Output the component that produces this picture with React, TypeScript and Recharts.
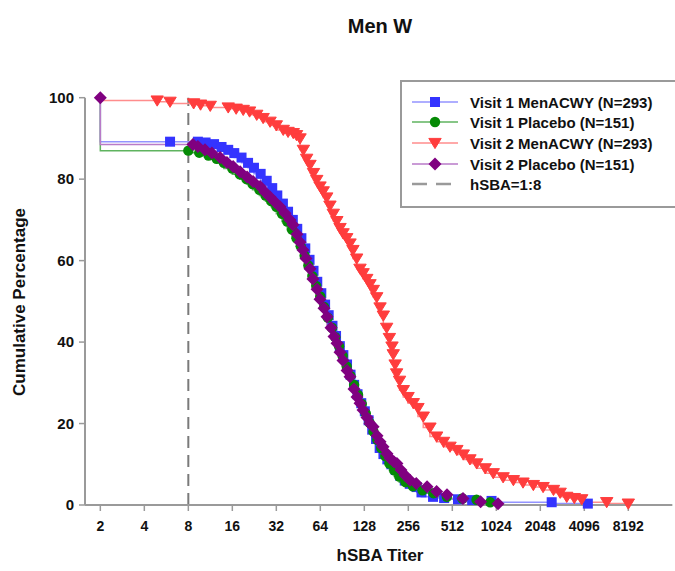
import React from 'react';
import { LineChart, Line, XAxis, YAxis, ReferenceLine } from 'recharts';

const FONT = '"Liberation Sans", Arial, Helvetica, sans-serif';

const titleText = 'Men W';
const xAxisTitle = 'hSBA Titer';
const yAxisTitle = 'Cumulative Percentage';
const xTicks = [2, 4, 8, 16, 32, 64, 128, 256, 512, 1024, 2048, 4096, 8192];
const yTicks = [0, 20, 40, 60, 80, 100];
const cutoffTiter = 8;
const cutoffLabel = 'hSBA=1:8';
const seriesNames = [
  'Visit 1 MenACWY (N=293)',
  'Visit 1 Placebo (N=151)',
  'Visit 2 MenACWY (N=293)',
  'Visit 2 Placebo (N=151)',
];

// [titer, cumulative %]
const visit1MenACWY: [number, number][] = [
  [2, 100], [6, 89.2], [9.3, 89.2], [10.5, 89.0], [12, 88.6], [13.5, 87.9], [15, 87.2], [16.5, 86.4],
  [18.5, 85.3], [20.5, 84.0], [22.5, 82.8], [25, 81.3], [27.5, 79.6], [30, 77.8], [32.5, 76.0],
  [35.5, 74.0], [38.5, 72.0], [41.5, 70.0], [44.5, 67.8], [47.5, 65.5], [50.5, 63.0], [54, 60.2],
  [57.5, 57.5], [61, 54.8], [65, 52.0], [69, 49.2], [73, 46.6], [77.5, 44.0], [82, 41.5], [87, 39.0],
  [92, 36.8], [97.5, 34.5], [103, 32.0], [109, 29.5], [115, 27.2], [122, 25.0], [129, 23.0],
  [137, 20.8], [145, 18.5], [154, 16.2], [163, 14.0], [173, 12.5], [184, 11.2], [196, 10.0],
  [210, 8.6], [225, 7.2], [242, 6.0], [262, 5.2], [292, 4.4], [315, 3.1], [378, 2.0], [450, 1.7],
  [560, 1.4], [700, 1.2], [950, 1.0], [2450, 0.68], [4330, 0.34],
];

const visit1Placebo: [number, number][] = [
  [2, 100], [8, 87.0], [9.5, 86.5], [11, 85.8], [12.5, 85.0], [14, 84.0], [16, 82.6], [18, 81.2],
  [20, 80.0], [22, 78.8], [24.5, 77.4], [27, 76.0], [29.5, 74.6], [32, 73.2], [35, 71.5], [38, 69.6],
  [41, 67.6], [44, 65.5], [47, 63.5], [50, 61.2], [53, 58.8], [56.5, 56.2], [60, 53.8], [64, 51.2],
  [68, 48.6], [72, 46.0], [77, 43.5], [81, 41.2], [86, 39.0], [91, 36.6], [97, 34.0], [103, 31.7],
  [109, 29.5], [116, 27.0], [123, 24.8], [131, 22.5], [139, 20.2], [148, 18.0], [157, 16.0],
  [167, 14.0], [178, 12.0], [190, 10.2], [205, 8.5], [222, 7.0], [245, 5.6], [275, 4.6], [320, 3.6],
  [380, 2.9], [470, 2.0], [600, 1.6], [750, 1.3], [930, 0.66],
];

const visit2MenACWY: [number, number][] = [
  [2, 100], [4.9, 99.3], [6, 99.0], [8.7, 98.6], [9.7, 98.3], [11.3, 98.0], [15, 97.6], [17, 97.3],
  [19, 97.0], [21, 96.6], [23.5, 95.8], [26, 95.0], [29, 94.1], [32, 93.2], [35.7, 92.1], [38.5, 91.6],
  [41.8, 91.3], [44, 90.8], [46.5, 90.0], [49, 87.2], [51.6, 85.0], [54.4, 83.5], [57.5, 81.5],
  [60.5, 79.8], [63.7, 78.2], [67, 77.0], [70.8, 75.5], [74.5, 73.5], [78.5, 71.5], [83, 69.7],
  [87.3, 68.0], [91.6, 66.7], [97, 65.5], [102.2, 64.2], [107, 62.6], [113.5, 60.5], [119.6, 58.0],
  [125.6, 56.9], [133, 55.5], [140, 54.2], [147.5, 52.8], [155.6, 51.0], [164, 48.5], [172.7, 46.5],
  [182, 43.5], [190, 41.0], [198, 38.9], [202, 37.0], [208, 34.5], [213, 32.3], [223, 30.5],
  [236.6, 28.2], [255, 26.5], [277, 25.0], [298, 23.8], [324, 21.7], [360, 19.0], [400, 16.8],
  [446, 15.5], [494, 14.3], [550, 13.5], [609, 12.4], [676, 11.2], [752, 10.2], [860, 9.0],
  [976, 7.8], [1140, 6.8], [1340, 6.1], [1560, 5.5], [1835, 4.9], [2140, 4.4], [2520, 3.7],
  [2800, 3.0], [3105, 2.0], [3500, 1.7], [3930, 1.4], [5830, 0.7], [8192, 0.34], [16384, 0],
];

const visit2Placebo: [number, number][] = [
  [2, 100], [8.6, 88.5], [9.3, 88.0], [10.4, 87.2], [11.6, 86.4], [13.2, 85.3], [14.7, 84.1],
  [16.2, 83.1], [18.1, 81.8], [20.2, 80.5], [22.2, 79.4], [24.8, 78.2], [26.8, 76.8], [29, 75.6],
  [31.3, 74.4], [33.9, 73.2], [36.7, 71.6], [39.7, 70.0], [41.6, 68.8], [44.3, 66.5], [46.5, 64.5],
  [48.7, 62.6], [51.1, 60.5], [54.4, 58.0], [57, 55.5], [60.8, 53.0], [63.7, 50.5], [67.8, 48.3],
  [71.1, 46.2], [75.7, 43.5], [79.4, 41.4], [83.2, 39.7], [87.3, 37.5], [91.5, 35.5], [97.5, 33.0],
  [102.2, 31.5], [108.8, 28.5], [114.1, 26.5], [119.6, 25.0], [125.4, 23.3], [133.5, 21.5],
  [140, 20.0], [147, 19.2], [156.4, 17.0], [164, 15.5], [171.9, 14.3], [183, 12.6], [191.9, 11.5],
  [204, 10.6], [214, 10.2], [228, 8.6], [243, 7.3], [263, 6.1], [290, 5.3], [344, 4.5], [400, 3.3],
  [471, 2.5], [606, 1.6], [800, 0.8], [1052, 0.3],
];

type Shape = 'square' | 'circle' | 'triangle' | 'diamond';

const toRows = (pairs: [number, number][]) => pairs.map(([x, y]) => ({ x, y }));

const SERIES: {
  name: string;
  rows: { x: number; y: number }[];
  line: string;
  marker: string;
  shape: Shape;
  hide: number[];
}[] = [
  { name: seriesNames[0], rows: toRows(visit1MenACWY), line: '#9393ff', marker: '#3434ff', shape: 'square', hide: [0] },
  { name: seriesNames[1], rows: toRows(visit1Placebo), line: '#5fb35f', marker: '#058a05', shape: 'circle', hide: [0] },
  { name: seriesNames[2], rows: toRows(visit2MenACWY), line: '#ff8d8d', marker: '#ff3d3d', shape: 'triangle', hide: [0, visit2MenACWY.length - 1] },
  { name: seriesNames[3], rows: toRows(visit2Placebo), line: '#b87ac8', marker: '#800080', shape: 'diamond', hide: [] },
];

function markerEl(shape: Shape, color: string, cx: number, cy: number, key?: string) {
  switch (shape) {
    case 'square':
      return <rect key={key} x={cx - 5} y={cy - 5} width={10} height={10} fill={color} />;
    case 'circle':
      return <circle key={key} cx={cx} cy={cy} r={5.2} fill={color} />;
    case 'triangle':
      return <path key={key} d={`M${cx - 6.2},${cy - 4.6} L${cx + 6.2},${cy - 4.6} L${cx},${cy + 5.6} Z`} fill={color} stroke={color} strokeWidth={1} strokeLinejoin="round" />;
    default:
      return <path key={key} d={`M${cx},${cy - 6.5} L${cx + 6.5},${cy} L${cx},${cy + 6.5} L${cx - 6.5},${cy} Z`} fill={color} />;
  }
}

const tickStyle = { fill: '#111', fontSize: 14, fontWeight: 700, fontFamily: FONT };
const AXIS_GRAY = '#9a9a9a';

export default function App() {
  const legendTop = 101.7;
  const legendStep = 20.6;
  return (
    <div style={{ position: 'absolute', left: 0, top: 0, width: 675, height: 571, overflow: 'hidden', background: '#fff', fontFamily: FONT }}>
      <LineChart width={675} height={571} margin={{ top: 97.7, right: 2.7, bottom: 36, left: 25 }}>
        <XAxis
          dataKey="x"
          type="number"
          scale="log"
          domain={[1.571, 16384]}
          allowDataOverflow
          ticks={xTicks}
          interval={0}
          height={30}
          tickSize={6}
          tickMargin={10}
          tick={tickStyle}
          axisLine={{ stroke: AXIS_GRAY, strokeWidth: 2 }}
          tickLine={{ stroke: AXIS_GRAY, strokeWidth: 1.5 }}
        />
        <YAxis
          type="number"
          domain={[0, 100]}
          ticks={yTicks}
          interval={0}
          width={60}
          tickSize={6}
          tickMargin={5}
          tick={{ ...tickStyle, fontSize: 15 }}
          axisLine={{ stroke: AXIS_GRAY, strokeWidth: 2 }}
          tickLine={{ stroke: AXIS_GRAY, strokeWidth: 1.5 }}
        />
        <ReferenceLine x={cutoffTiter} stroke="#7a7a7a" strokeWidth={2} strokeDasharray="12 7" />
        {SERIES.map((s) => (
          <Line
            key={s.name}
            data={s.rows}
            dataKey="y"
            name={s.name}
            type="stepBefore"
            stroke={s.line}
            strokeWidth={1.5}
            isAnimationActive={false}
            activeDot={false}
            dot={(p: any) => {
              const k = `${s.shape}-${p.index}`;
              if (s.hide.includes(p.index) || p.cx == null || p.cy == null) return <g key={k} />;
              return markerEl(s.shape, s.marker, p.cx, p.cy, k);
            }}
          />
        ))}
      </LineChart>

      <div style={{ position: 'absolute', left: 380, top: 25.5, transform: 'translate(-50%, -50%)', fontSize: 20, fontWeight: 700, lineHeight: 1, whiteSpace: 'nowrap', color: '#111' }}>
        {titleText}
      </div>
      <div style={{ position: 'absolute', left: 380, top: 555, transform: 'translate(-50%, -50%)', fontSize: 17, fontWeight: 700, lineHeight: 1, whiteSpace: 'nowrap', color: '#111' }}>
        {xAxisTitle}
      </div>
      <div style={{ position: 'absolute', left: 19, top: 302, transform: 'translate(-50%, -50%) rotate(-90deg)', fontSize: 17, fontWeight: 700, lineHeight: 1, whiteSpace: 'nowrap', color: '#111' }}>
        {yAxisTitle}
      </div>

      <div style={{ position: 'absolute', left: 400, top: 80, width: 290, height: 128, border: `2px solid ${AXIS_GRAY}`, boxSizing: 'border-box', background: '#fff' }} />
      {SERIES.map((s, i) => {
        const cy = legendTop + i * legendStep;
        return (
          <React.Fragment key={s.name}>
            <svg style={{ position: 'absolute', left: 411, top: cy - 7 }} width={48} height={14}>
              <line x1={1} x2={47} y1={7} y2={7} stroke={s.line} strokeWidth={1.5} />
              {markerEl(s.shape, s.marker, 24, 7)}
            </svg>
            <div style={{ position: 'absolute', left: 470, top: cy, transform: 'translateY(-50%)', fontSize: 15, fontWeight: 700, lineHeight: 1, whiteSpace: 'nowrap', color: '#111' }}>
              {s.name}
            </div>
          </React.Fragment>
        );
      })}
      {(() => {
        const cy = legendTop + 4 * legendStep;
        return (
          <>
            <svg style={{ position: 'absolute', left: 411, top: cy - 7 }} width={48} height={14}>
              <line x1={1} x2={47} y1={7} y2={7} stroke={AXIS_GRAY} strokeWidth={2.5} strokeDasharray="15 9" />
            </svg>
            <div style={{ position: 'absolute', left: 470, top: cy, transform: 'translateY(-50%)', fontSize: 15, fontWeight: 700, lineHeight: 1, whiteSpace: 'nowrap', color: '#111' }}>
              {cutoffLabel}
            </div>
          </>
        );
      })()}
    </div>
  );
}
